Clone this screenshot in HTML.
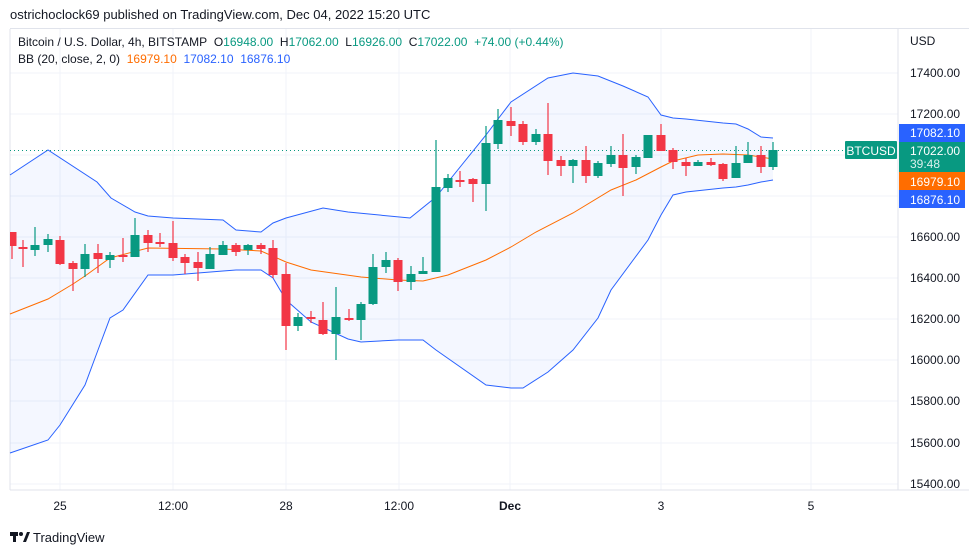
<!DOCTYPE html><html><head><style>
body{margin:0;width:979px;height:555px;background:#fff;font-family:"Liberation Sans",sans-serif;overflow:hidden;position:relative}
.t{position:absolute;white-space:nowrap}
</style></head><body>
<div class="t" style="left:10px;top:7px;font-size:13px;color:#131722">ostrichoclock69 published on TradingView.com, Dec 04, 2022 15:20 UTC</div>
<svg width="979" height="555" style="position:absolute;left:0;top:0" font-family="Liberation Sans, sans-serif">
<rect x="10" y="28" width="959" height="1" fill="#e0e3eb"/>
<g stroke="#f0f3fa" stroke-width="1">
<line x1="10" x2="898" y1="73" y2="73"/><line x1="10" x2="898" y1="114" y2="114"/><line x1="10" x2="898" y1="155" y2="155"/><line x1="10" x2="898" y1="196" y2="196"/><line x1="10" x2="898" y1="237" y2="237"/><line x1="10" x2="898" y1="278" y2="278"/><line x1="10" x2="898" y1="319" y2="319"/><line x1="10" x2="898" y1="360" y2="360"/><line x1="10" x2="898" y1="401" y2="401"/><line x1="10" x2="898" y1="443" y2="443"/><line x1="10" x2="898" y1="484" y2="484"/>
<line x1="60" x2="60" y1="29" y2="490"/><line x1="173" x2="173" y1="29" y2="490"/><line x1="286" x2="286" y1="29" y2="490"/><line x1="399" x2="399" y1="29" y2="490"/><line x1="510" x2="510" y1="29" y2="490"/><line x1="661" x2="661" y1="29" y2="490"/><line x1="811" x2="811" y1="29" y2="490"/>
</g>
<line x1="10" x2="10" y1="29" y2="490" stroke="#e0e3eb"/>
<line x1="898" x2="898" y1="29" y2="490" stroke="#e0e3eb"/>
<line x1="10" x2="969" y1="490" y2="490" stroke="#e0e3eb"/>
<polygon fill="#2962ff" fill-opacity="0.05" points="10,175 48,150 97,182 111,198 135,212 148,216 173,218 223,220 236,230 261,232 273,223 286,218 323,208 348,212 410,218 436,197 448,182 486,135 498,119 511,102 548,78 573,73 598,76 623,86 648,97 661,115 673,118 686,119 723,123 736,124 748,129 761,137 773,138 773,180 761,182 748,185 736,187 723,188 686,192 673,195 661,215 648,240 611,290 598,318 573,350 548,372 523,388 511,388 486,385 436,350 423,340 398,340 361,342 348,339 311,322 286,300 273,278 261,270 236,270 223,271 173,275 148,275 123,310 110,318 98,350 85,385 60,425 48,440 10,453"/>
<polyline fill="none" stroke="#2962ff" stroke-width="1" points="10,175 48,150 97,182 111,198 135,212 148,216 173,218 223,220 236,230 261,232 273,223 286,218 323,208 348,212 410,218 436,197 448,182 486,135 498,119 511,102 548,78 573,73 598,76 623,86 648,97 661,115 673,118 686,119 723,123 736,124 748,129 761,137 773,138"/>
<polyline fill="none" stroke="#2962ff" stroke-width="1" points="10,453 48,440 60,425 85,385 98,350 110,318 123,310 148,275 173,275 223,271 236,270 261,270 273,278 286,300 311,322 348,339 361,342 398,340 423,340 436,350 486,385 511,388 523,388 548,372 573,350 598,318 611,290 648,240 661,215 673,195 686,192 723,188 736,187 748,185 761,182 773,180"/>
<polyline fill="none" stroke="#ff6d00" stroke-width="1" points="10,314 48,299 73,284 85,276 110,258 148,248 223,249 261,251 286,262 311,270 361,277 398,280 423,281 448,275 486,260 511,247 536,232 573,213 611,190 636,180 661,167 673,161 698,155 723,154 748,155 773,159"/>
<line x1="10" x2="898" y1="150.5" y2="150.5" stroke="#089981" stroke-dasharray="1,3"/>
<g id="c"></g>
<g font-size="12" fill="#131722">
<text x="910" y="45">USD</text>
<text x="910" y="77">17400.00</text><text x="910" y="118">17200.00</text><text x="910" y="241">16600.00</text><text x="910" y="282">16400.00</text><text x="910" y="323">16200.00</text><text x="910" y="364">16000.00</text><text x="910" y="405">15800.00</text><text x="910" y="447">15600.00</text><text x="910" y="488">15400.00</text>
<text x="60" y="510" text-anchor="middle">25</text><text x="173" y="510" text-anchor="middle">12:00</text><text x="286" y="510" text-anchor="middle">28</text><text x="399" y="510" text-anchor="middle">12:00</text><text x="510" y="510" text-anchor="middle" font-weight="bold">Dec</text><text x="661" y="510" text-anchor="middle">3</text><text x="811" y="510" text-anchor="middle">5</text>
</g>
<rect x="845" y="141" width="52" height="18" fill="#089981" rx="1"/><text x="871" y="155" text-anchor="middle" fill="#fff" font-size="12">BTCUSD</text>
<rect x="899" y="124" width="66" height="18" fill="#2962ff"/><text x="910" y="137" fill="#fff" font-size="12">17082.10</text>
<rect x="899" y="142" width="66" height="30" fill="#089981"/><text x="910" y="155" fill="#fff" font-size="12">17022.00</text><text x="910" y="168" fill="#fff" font-size="12" fill-opacity="0.85">39:48</text>
<rect x="899" y="172" width="66" height="18" fill="#ff6d00"/><text x="910" y="186" fill="#fff" font-size="12">16979.10</text>
<rect x="899" y="190" width="66" height="18" fill="#2962ff"/><text x="910" y="204" fill="#fff" font-size="12">16876.10</text>
<g font-size="12">
<text x="18" y="46" fill="#131722">Bitcoin / U.S. Dollar, 4h, BITSTAMP&#160;&#160;O<tspan fill="#089981">16948.00</tspan>&#160;&#160;H<tspan fill="#089981">17062.00</tspan>&#160;&#160;L<tspan fill="#089981">16926.00</tspan>&#160;&#160;C<tspan fill="#089981">17022.00&#160;&#160;+74.00 (+0.44%)</tspan></text>
<text x="18" y="63" fill="#131722">BB (20, close, 2, 0)&#160;&#160;<tspan fill="#ff6d00">16979.10</tspan>&#160;&#160;<tspan fill="#2962ff">17082.10</tspan>&#160;&#160;<tspan fill="#2962ff">16876.10</tspan></text>
</g>
<g transform="translate(10,531)"><rect x="0" y="1" width="8" height="4" fill="#131722"/><rect x="3" y="1" width="3" height="10" fill="#131722"/><circle cx="11" cy="3" r="2" fill="#131722"/><polygon points="13,11 17,1 20,1 16,11" fill="#131722"/></g>
<text x="33" y="542" font-size="13" fill="#131722">TradingView</text>
</svg>
<script>
var d=[[12,'r',232,246,232,259],[23,'r',247,249,240,267],[35,'g',245,250,227,256],[48,'g',239,245,234,252],[60,'r',240,264,236,265],[73,'r',263,269,261,291],[85,'g',254,269,244,277],[98,'r',253,259,244,273],[110,'g',255,260,252,268],[123,'r',255,257,238,262],[135,'g',235,257,218,257],[148,'r',235,243,230,252],[160,'r',242,244,233,247],[173,'r',243,258,221,261],[185,'r',257,263,254,274],[198,'r',262,268,252,281],[210,'g',254,269,247,269],[223,'g',245,255,241,255],[236,'r',245,252,243,256],[248,'g',245,250,244,255],[261,'r',245,249,243,254],[273,'r',248,275,240,278],[286,'r',274,326,263,350],[298,'g',317,326,313,331],[311,'r',317,319,311,323],[323,'r',320,334,302,335],[336,'g',317,334,287,360],[349,'r',318,320,309,321],[361,'g',304,320,302,340],[373,'g',267,304,254,305],[386,'g',260,267,252,273],[398,'r',260,282,258,291],[411,'g',274,282,266,290],[423,'g',271,274,257,274],[436,'g',187,272,140,272],[448,'g',178,188,174,192],[460,'r',180,182,171,187],[473,'r',179,184,178,202],[486,'g',143,184,126,211],[498,'g',120,144,109,149],[511,'r',121,126,107,136],[523,'r',124,142,121,145],[536,'g',134,142,129,145],[548,'r',134,161,103,175],[561,'r',160,166,156,176],[573,'g',160,166,159,183],[586,'r',160,176,146,183],[598,'g',163,176,161,178],[611,'g',155,164,146,167],[623,'r',155,168,134,196],[636,'g',157,167,155,174],[648,'g',135,158,135,158],[661,'r',135,151,124,151],[673,'r',150,162,148,169],[686,'r',162,166,158,176],[698,'g',162,166,160,166],[711,'r',162,165,158,166],[723,'r',164,179,163,181],[736,'g',163,178,146,178],[748,'g',155,163,142,163],[761,'r',155,167,146,173],[773,'g',150,167,142,170]];
var s='';d.forEach(function(c){var col=c[1]=='g'?'#089981':'#f23645';var x0=c[0]==12?10:c[0]-4.5;var w=c[0]==12?6.5:9;
s+='<line x1="'+c[0]+'" x2="'+c[0]+'" y1="'+c[4]+'" y2="'+c[5]+'" stroke="'+col+'" stroke-width="1.2"/>';
s+='<rect x="'+x0+'" y="'+c[2]+'" width="'+w+'" height="'+Math.max(1.5,c[3]-c[2])+'" fill="'+col+'"/>';});
document.getElementById('c').innerHTML=s;
</script>
</body></html>
